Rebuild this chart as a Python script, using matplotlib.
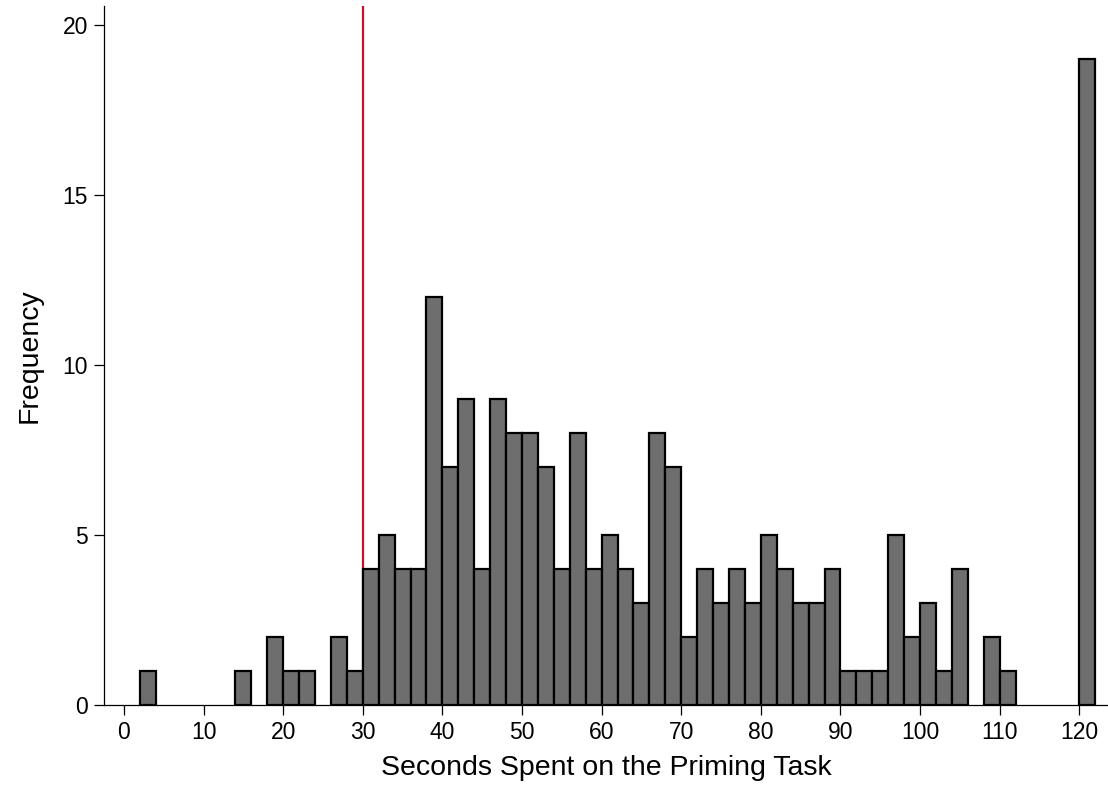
import numpy as np
import matplotlib.pyplot as plt

plt.rcParams['font.family'] = ['Liberation Sans', 'DejaVu Sans']

# histogram of seconds, 2-second bins starting at 0
bin_starts = np.arange(0, 122, 2)
counts = [0, 1, 0, 0, 0, 0, 0, 1, 0, 2,
          1, 1, 0, 2, 1, 4, 5, 4, 4, 12,
          7, 9, 4, 9, 8, 8, 7, 4, 8, 4,
          5, 4, 3, 8, 7, 2, 4, 3, 4, 3,
          5, 4, 3, 3, 4, 1, 1, 1, 5, 2,
          3, 1, 4, 0, 2, 1, 0, 0, 0, 0,
          19]
cutoff = 30
xticks = np.arange(0, 121, 10)
yticks = [0, 5, 10, 15, 20]

fig = plt.figure(figsize=(11.08, 7.88), dpi=100)
ax = fig.add_axes([0.0939, 0.1053, 0.9061, 0.887])

# empty bins get no outline so the baseline stays thin
edge_w = [1.6 if c > 0 else 0 for c in counts]
ax.bar(bin_starts, counts, width=2, align='edge', color='#6e6e6e',
       edgecolor='black', linewidth=edge_w, zorder=3)
ax.axvline(cutoff, color='#c8102e', linewidth=1.6, zorder=2)

ax.set_xlim(-2.5, 123.6)
ax.set_ylim(0, 20.55)
ax.set_xticks(xticks)
ax.set_yticks(yticks)
ax.tick_params(axis='both', labelsize=16.5, length=7.5, width=0.9,
               direction='out', pad=4)

for s in ['top', 'right']:
    ax.spines[s].set_visible(False)
for s in ['left', 'bottom']:
    ax.spines[s].set_linewidth(0.9)

ax.set_xlabel("Seconds Spent on the Priming Task", fontsize=20.5, labelpad=8)
ax.set_ylabel("Frequency", fontsize=20.5, labelpad=14)

fig.savefig("out.png", dpi=100)
